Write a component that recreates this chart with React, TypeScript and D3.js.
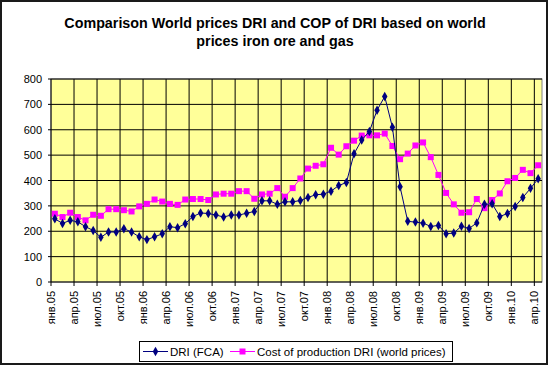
import * as d3 from "d3";

const monthAbbr = ["янв", "фев", "мар", "апр", "май", "июн", "июл", "авг", "сен", "окт", "ноя", "дек"];
// Jan 2005 .. Apr 2010, monthly
const categories = d3.range(64).map(
  (i) => `${monthAbbr[i % 12]}.${String(5 + Math.floor(i / 12)).padStart(2, "0")}`
);

const driFca = [
  249, 231, 243, 237, 218, 203, 176, 197, 197, 210, 197, 178,
  167, 178, 190, 218, 214, 230, 258, 272, 270, 264, 256, 264,
  264, 271, 278, 320, 320, 306, 316, 316, 321, 333, 344, 346,
  358, 380, 392, 505, 560, 593, 677, 731, 610, 375, 239, 236,
  232, 219, 223, 190, 193, 220, 211, 233, 306, 308, 258, 270,
  298, 333, 369, 407,
];

const copWorld = [
  269, 256, 273, 256, 243, 265, 261, 287, 287, 283, 278, 298,
  308, 325, 317, 308, 304, 325, 327, 327, 323, 345, 348, 348,
  358, 358, 328, 345, 348, 370, 336, 370, 408, 447, 458, 464,
  529, 502, 535, 557, 577, 578, 578, 585, 536, 484, 506, 538,
  550, 492, 422, 351, 306, 273, 275, 327, 291, 323, 349, 397,
  410, 442, 429, 460,
];

const yTicks = [0, 100, 200, 300, 400, 500, 600, 700, 800];

const font = "Arial, 'Liberation Sans', sans-serif";

const App = () => {
  const left = 51, right = 542, top = 79, bottom = 282;

  const x = d3.scaleBand<number>().domain(d3.range(categories.length)).range([left, right]).padding(0);
  const y = d3.scaleLinear().domain([0, 800]).range([bottom, top]);
  const cx = (i: number) => (x(i) as number) + x.bandwidth() / 2;

  const line = d3
    .line<number>()
    .x((_, i) => cx(i))
    .y((d) => y(d));

  const diamond = d3.symbol(d3.symbolDiamond, 26)();
  const tickIdx = d3.range(0, categories.length, 3);

  return (
    <svg
      width={550}
      height={366}
      style={{ position: "absolute", left: 0, top: 0, background: "#fff" }}
      fontFamily={font}
    >
      <rect x={1} y={1} width={546} height={363} fill="#fff" stroke="#1a1a1a" strokeWidth={2} />

      <text x={275} y={28} textAnchor="middle" fontWeight="bold" fontSize={14.3}>
        Comparison World prices DRI and COP of DRI based on world
      </text>
      <text x={275} y={46} textAnchor="middle" fontWeight="bold" fontSize={14.3}>
        prices iron ore and gas
      </text>

      <rect x={left} y={top} width={right - left} height={bottom - top} fill="#FFFF99" stroke="#808080" />

      {yTicks.map((t) => (
        <g key={t}>
          {t > 0 && <line x1={left} x2={right} y1={y(t)} y2={y(t)} stroke="#000" />}
          <line x1={left - 3} x2={left} y1={y(t)} y2={y(t)} stroke="#000" />
          <text x={42} y={y(t) + 4} textAnchor="end" fontSize={11}>
            {t}
          </text>
        </g>
      ))}

      {tickIdx.map((i) => {
        const gx = x(i) as number;
        return (
          <g key={i}>
            {i > 0 && <line x1={gx} x2={gx} y1={top} y2={bottom} stroke="#000" />}
            <line x1={gx} x2={gx} y1={bottom} y2={bottom + 4} stroke="#000" />
            <text
              transform={`translate(${gx + 4},${bottom + 9}) rotate(-90)`}
              textAnchor="end"
              fontSize={11}
            >
              {categories[i]}
            </text>
          </g>
        );
      })}

      <line x1={left} x2={left} y1={top} y2={bottom} stroke="#000" />
      <line x1={left} x2={right} y1={bottom} y2={bottom} stroke="#000" />

      <path d={line(copWorld) ?? ""} fill="none" stroke="#FF00FF" strokeWidth={1} />
      {copWorld.map((d, i) => (
        <rect key={i} x={cx(i) - 3} y={y(d) - 3} width={6} height={6} fill="#FF00FF" />
      ))}

      <path d={line(driFca) ?? ""} fill="none" stroke="#000080" strokeWidth={1} />
      {driFca.map((d, i) => (
        <path key={i} d={diamond ?? ""} transform={`translate(${cx(i)},${y(d)})`} fill="#000080" />
      ))}

      <g>
        <rect x={139.5} y={341.5} width={313} height={20} fill="#fff" stroke="#000" />
        <line x1={143} x2={168} y1={351.5} y2={351.5} stroke="#000080" />
        <path d={diamond ?? ""} transform="translate(155.5,351.5)" fill="#000080" />
        <text x={170} y={355.5} fontSize={11.5}>
          DRI (FCA)
        </text>
        <line x1={230} x2={255} y1={351.5} y2={351.5} stroke="#FF00FF" />
        <rect x={239.5} y={348.5} width={6} height={6} fill="#FF00FF" />
        <text x={257} y={355.5} fontSize={11.5}>
          Cost of production DRI (world prices)
        </text>
      </g>
    </svg>
  );
};

export default App;
